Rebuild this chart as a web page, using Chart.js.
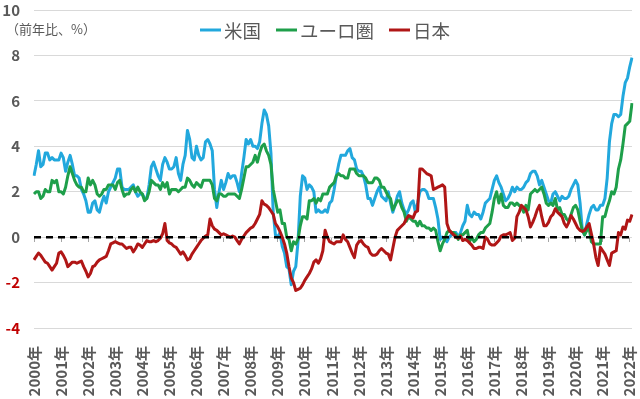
<!DOCTYPE html>
<html lang="ja">
<head>
<meta charset="utf-8">
<script src="https://cdn.jsdelivr.net/npm/chart.js@4.4.1/dist/chart.umd.min.js"></script>
<style>
  html, body { margin: 0; padding: 0; background: #fff; }
  #wrap { width: 640px; height: 399px; position: relative; }
</style>
</head>
<body>
<div id="wrap"><canvas id="cpi"></canvas></div>
<script>
// 年ラベル（1月の位置に表示）
const yearLabels = ['2000年','2001年','2002年','2003年','2004年','2005年','2006年','2007年','2008年','2009年','2010年',
  '2011年','2012年','2013年','2014年','2015年','2016年','2017年','2018年','2019年','2020年','2021年','2022年'];
const monthLabels = ['1月','2月','3月','4月','5月','6月','7月','8月','9月','10月','11月','12月'];

const yTicks = [-4, -2, 0, 2, 4, 6, 8, 10];

// 米国 CPI（前年比、%）2000年1月〜2022年2月
const usCpi = [
  2.7,3.2,3.8,3.1,3.2,3.7,3.7,3.4,3.5,3.4,3.4,3.4,
  3.7,3.5,2.9,3.3,3.6,3.2,2.7,2.7,2.6,2.1,1.9,1.6,
  1.1,1.1,1.5,1.6,1.2,1.1,1.5,1.8,1.5,2.0,2.2,2.4,
  2.6,3.0,3.0,2.2,2.1,2.1,2.1,2.2,2.3,2.0,1.8,1.9,
  1.9,1.7,1.7,2.3,3.1,3.3,3.0,2.7,2.5,3.2,3.5,3.3,
  3.0,3.0,3.1,3.5,2.8,2.5,3.2,3.6,4.7,4.3,3.5,3.4,
  4.0,3.6,3.4,3.5,4.2,4.3,4.1,3.8,2.1,1.3,2.0,2.5,
  2.1,2.4,2.8,2.6,2.7,2.7,2.4,2.0,2.8,3.5,4.3,4.1,
  4.3,4.0,4.0,3.9,4.2,5.0,5.6,5.4,4.9,3.7,1.1,0.1,
  0.0,0.2,-0.4,-0.7,-1.3,-1.4,-2.1,-1.5,-1.3,-0.2,1.8,2.7,
  2.6,2.1,2.3,2.2,2.0,1.1,1.2,1.1,1.1,1.2,1.1,1.5,
  1.6,2.1,2.7,3.2,3.6,3.6,3.6,3.8,3.9,3.5,3.4,3.0,
  2.9,2.9,2.7,2.3,1.7,1.7,1.4,1.7,2.0,2.2,1.8,1.7,
  1.6,2.0,1.5,1.1,1.4,1.8,2.0,1.5,1.2,1.0,1.2,1.5,
  1.6,1.1,1.5,2.0,2.1,2.1,2.0,1.7,1.7,1.7,1.3,0.8,
  -0.1,0.0,-0.1,-0.2,0.0,0.1,0.2,0.2,0.0,0.2,0.5,0.7,
  1.4,1.0,0.9,1.1,1.0,1.0,0.8,1.1,1.5,1.6,1.7,2.1,
  2.5,2.7,2.4,2.2,1.9,1.6,1.7,1.9,2.2,2.0,2.2,2.1,
  2.1,2.2,2.4,2.5,2.8,2.9,2.9,2.7,2.3,2.5,2.2,1.9,
  1.6,1.5,1.9,2.0,1.8,1.6,1.8,1.7,1.7,1.8,2.1,2.3,
  2.5,2.3,1.5,0.3,0.1,0.6,1.0,1.3,1.4,1.2,1.2,1.4,
  1.4,1.7,2.6,4.2,5.0,5.4,5.4,5.3,5.4,6.2,6.8,7.0,
  7.5,7.9
];

// ユーロ圏 HICP（前年比、%）
const euroCpi = [
  1.9,2.0,2.0,1.7,1.8,2.1,2.0,2.0,2.5,2.4,2.5,2.0,
  2.0,1.9,2.2,2.7,3.1,2.8,2.5,2.3,2.2,2.2,2.0,2.0,
  2.6,2.3,2.5,2.3,1.9,1.8,1.9,2.1,2.1,2.3,2.3,2.3,
  2.1,2.4,2.5,2.1,1.8,1.9,1.9,2.1,2.2,2.0,2.2,2.0,
  1.9,1.6,1.7,2.0,2.5,2.4,2.3,2.3,2.1,2.4,2.2,2.4,
  1.9,2.1,2.1,2.1,2.0,2.1,2.2,2.2,2.6,2.5,2.3,2.2,
  2.4,2.3,2.2,2.5,2.5,2.5,2.5,2.3,1.7,1.6,1.9,1.9,
  1.8,1.8,1.9,1.9,1.9,1.9,1.8,1.7,2.1,2.6,3.1,3.1,
  3.2,3.3,3.6,3.3,3.7,4.0,4.1,3.8,3.6,3.2,2.1,1.6,
  1.1,1.2,0.6,0.6,0.0,-0.1,-0.6,-0.2,-0.3,-0.1,0.5,0.9,
  0.9,0.8,1.6,1.6,1.7,1.5,1.7,1.6,1.9,1.9,1.9,2.2,
  2.3,2.4,2.7,2.8,2.7,2.7,2.6,2.6,3.0,3.0,3.0,2.8,
  2.7,2.7,2.7,2.6,2.4,2.4,2.4,2.6,2.6,2.5,2.2,2.2,
  2.0,1.8,1.7,1.2,1.4,1.6,1.6,1.3,1.1,0.7,0.9,0.8,
  0.7,0.7,0.5,0.7,0.5,0.5,0.4,0.4,0.3,0.4,0.3,-0.2,
  -0.6,-0.3,-0.1,0.2,0.3,0.2,0.2,0.1,-0.1,0.1,0.1,0.2,
  0.3,-0.2,0.0,-0.2,-0.1,0.1,0.2,0.2,0.4,0.5,0.6,1.1,
  1.7,2.0,1.5,1.9,1.4,1.3,1.3,1.5,1.5,1.4,1.5,1.4,
  1.3,1.1,1.4,1.2,1.9,2.0,2.1,2.0,2.1,2.2,1.9,1.5,
  1.4,1.5,1.4,1.7,1.2,1.3,1.0,1.0,0.8,0.7,1.0,1.3,
  1.4,1.2,0.7,0.3,0.1,0.3,0.4,-0.2,-0.3,-0.3,-0.3,-0.3,
  0.9,0.9,1.3,1.6,2.0,1.9,2.2,3.0,3.4,4.1,4.9,5.0,
  5.1,5.9
];

// 日本 CPI（前年比、%）
const japanCpi = [
  -1.0,-0.85,-0.7,-0.8,-0.95,-1.1,-1.15,-1.3,-1.45,-1.3,-1.15,-0.7,
  -0.65,-0.8,-1.0,-1.3,-1.2,-1.1,-1.1,-1.15,-1.1,-1.05,-1.3,-1.5,
  -1.75,-1.6,-1.3,-1.25,-1.1,-1.0,-0.95,-0.9,-0.85,-0.6,-0.3,-0.25,
  -0.2,-0.25,-0.3,-0.3,-0.4,-0.5,-0.45,-0.45,-0.65,-0.5,-0.3,-0.35,
  -0.45,-0.3,-0.15,-0.2,-0.2,-0.15,-0.2,-0.15,-0.05,0.15,0.6,-0.15,
  -0.25,-0.3,-0.4,-0.45,-0.6,-0.75,-0.65,-0.8,-1.0,-0.95,-0.75,-0.6,
  -0.45,-0.3,-0.15,-0.05,0.05,0.1,0.8,0.5,0.35,0.3,0.2,0.1,
  0.15,0.1,0.05,0.0,0.05,0.0,-0.15,-0.3,-0.1,0.05,0.2,0.3,
  0.4,0.45,0.6,0.8,1.0,1.6,1.45,1.4,1.3,1.15,1.0,0.6,
  0.45,0.25,0.0,-0.3,-0.7,-1.3,-1.8,-2.0,-2.35,-2.3,-2.25,-2.1,
  -1.9,-1.75,-1.6,-1.4,-1.1,-1.0,-1.15,-0.95,-0.6,0.3,0.0,-0.2,
  -0.25,-0.3,-0.2,-0.2,-0.2,0.1,-0.1,-0.2,-0.45,-0.7,-0.9,-0.35,
  -0.2,-0.15,-0.3,-0.4,-0.45,-0.7,-0.8,-0.8,-0.75,-0.6,-0.5,-0.6,
  -0.7,-0.75,-1.0,-0.5,0.0,0.3,0.4,0.5,0.6,0.8,0.95,0.9,
  0.85,1.1,1.15,3.0,3.0,2.9,2.8,2.75,2.7,2.1,2.15,2.2,
  2.25,2.3,2.2,0.6,0.3,0.2,0.1,0.0,-0.05,0.05,-0.15,-0.1,
  -0.15,-0.25,-0.35,-0.5,-0.5,-0.45,-0.45,-0.5,0.0,-0.1,-0.3,-0.35,
  -0.35,-0.25,-0.15,0.05,0.1,0.1,0.15,0.2,-0.15,-0.05,0.9,1.1,
  1.4,1.3,1.2,0.9,0.45,0.65,0.9,1.2,1.4,0.9,0.5,0.5,
  0.65,0.9,1.0,1.25,1.1,1.0,0.9,0.6,0.45,0.65,0.95,0.8,
  0.6,0.4,0.3,0.25,0.3,0.45,0.6,0.15,-0.3,-0.9,-1.25,-0.45,
  -0.6,-0.75,-1.0,-1.25,-0.7,-0.65,-0.6,0.2,0.1,0.45,0.35,0.75,
  0.7,1.0
];

const categories = yearLabels.flatMap(y => monthLabels.map(m => y + m)).slice(0, usCpi.length);
const zeroLine = categories.map(() => 0);
const isJanuary = i => categories[i] && categories[i].endsWith('年1月');

const textGray = '#595959';
const jpFont = '"Noto Sans CJK JP", "Noto Sans", sans-serif';

// 単位表示と凡例（グラフ内の上部に重ねて描く）
const overlayText = {
  id: 'overlayText',
  afterDraw(chart) {
    const ctx = chart.ctx;
    ctx.save();
    ctx.fillStyle = textGray;
    ctx.textBaseline = 'middle';
    ctx.font = '13px ' + jpFont;
    ctx.fillText('（前年比、%）', 6, 29);

    // 凡例
    ctx.font = '18.5px ' + jpFont;
    const items = chart.data.datasets.slice(0, 3);
    const lineLen = 21, gapText = 3, gapItem = 15;
    const widths = items.map(d => lineLen + gapText + ctx.measureText(d.label).width);
    const total = widths.reduce((a, b) => a + b, 0) + gapItem * (items.length - 1);
    let x = 325 - total / 2;
    const y = 30;
    items.forEach((d, i) => {
      ctx.strokeStyle = d.borderColor;
      ctx.lineWidth = 3;
      ctx.beginPath();
      ctx.moveTo(x, y);
      ctx.lineTo(x + lineLen, y);
      ctx.stroke();
      ctx.fillStyle = textGray;
      ctx.fillText(d.label, x + lineLen + gapText, y + 1);
      x += widths[i] + gapItem;
    });
    ctx.restore();
  }
};

new Chart(document.getElementById('cpi'), {
  type: 'line',
  data: {
    labels: categories,
    datasets: [
      { label: '米国', data: usCpi, borderColor: '#22A8DD', backgroundColor: '#22A8DD', order: 3 },
      { label: 'ユーロ圏', data: euroCpi, borderColor: '#1E9F4A', backgroundColor: '#1E9F4A', order: 2 },
      { label: '日本', data: japanCpi, borderColor: '#B01616', backgroundColor: '#B01616', order: 1 },
      { label: 'zero', data: zeroLine, borderColor: '#000', borderWidth: 2.5, borderDash: [7, 5], order: 0 }
    ]
  },
  options: {
    responsive: true,
    maintainAspectRatio: false,
    animation: false,
    layout: { padding: { top: 0, right: 8, left: 0 } },
    elements: {
      point: { radius: 0 },
      line: { borderWidth: 3, tension: 0, borderJoinStyle: 'round' }
    },
    plugins: {
      tooltip: { enabled: false },
      legend: { display: false }
    },
    scales: {
      x: {
        type: 'category',
        offset: false,
        grid: { display: false },
        border: { display: false },
        afterFit: s => { s.height = 71; s.paddingLeft = 0; s.paddingRight = 0; },
        ticks: {
          autoSkip: false,
          maxRotation: 90,
          minRotation: 90,
          padding: 10,
          color: textGray,
          font: { size: 15, weight: 'bold', family: jpFont },
          callback: function (value, index) {
            return isJanuary(index) ? categories[index].replace('1月', '') : '';
          }
        }
      },
      // 0 の位置の目盛り（年ごと）
      xZero: {
        type: 'category',
        position: { y: 0 },
        offset: false,
        border: { display: false },
        grid: {
          drawOnChartArea: false,
          drawTicks: true,
          tickLength: 5,
          lineWidth: 1,
          color: c => (isJanuary(c.index) ? '#A6A6A6' : 'rgba(0,0,0,0)')
        },
        ticks: { display: false, autoSkip: false }
      },
      y: {
        min: yTicks[0],
        max: yTicks[yTicks.length - 1],
        afterFit: s => { s.width = 34; s.paddingTop = 10; s.paddingBottom = 0; },
        afterBuildTicks: s => { s.ticks = yTicks.map(v => ({ value: v })); },
        grid: { color: '#D9D9D9', drawTicks: false },
        border: { display: false },
        ticks: {
          padding: 14,
          font: { size: 15, weight: 'bold', family: jpFont },
          color: c => (c.tick && c.tick.value < 0 ? '#C00000' : textGray)
        }
      }
    }
  },
  plugins: [overlayText]
});
</script>
</body>
</html>
